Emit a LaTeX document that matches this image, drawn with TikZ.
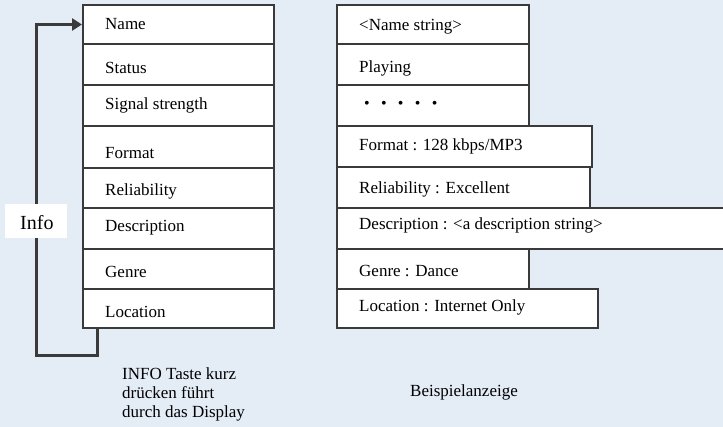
\documentclass[tikz,border=0pt]{standalone}
\usepackage{fontspec}
\setmainfont{Liberation Serif}
\usetikzlibrary{arrows.meta}
\definecolor{bg}{HTML}{E4ECF6}
\definecolor{ln}{HTML}{3A3A3A}
\tikzset{
  rowbox/.style={draw=ln, line width=2pt, fill=white, anchor=north west, inner sep=0pt},
  txt/.style={anchor=base west, inner sep=0pt, font=\fontsize{17}{19}\selectfont, text=black},
  conn/.style={draw=ln, line width=3pt, -{Triangle[length=10pt,width=12pt]}},
}
\begin{document}
\begin{tikzpicture}[x=1pt,y=-1pt]
\clip (0,0) rectangle (723,427);
\fill[bg] (0,0) rectangle (723,427);
% left column
\node[rowbox, minimum width=191, minimum height=39] (L1) at (82,4) {};
\node[rowbox, minimum width=191, minimum height=41] (L2) at (82,43) {};
\node[rowbox, minimum width=191, minimum height=41] (L3) at (82,84) {};
\node[rowbox, minimum width=191, minimum height=42] (L4) at (82,125) {};
\node[rowbox, minimum width=191, minimum height=40] (L5) at (82,167) {};
\node[rowbox, minimum width=191, minimum height=41] (L6) at (82,207) {};
\node[rowbox, minimum width=191, minimum height=40] (L7) at (82,248) {};
\node[rowbox, minimum width=191, minimum height=39] (L8) at (82,288) {};
\node[txt] (tL1) at (105,29.5) {Name};
\node[txt] (tL2) at (105,74) {Status};
\node[txt] (tL3) at (105,110) {Signal strength};
\node[txt] (tL4) at (105,158.5) {Format};
\node[txt] (tL5) at (105,195.5) {Reliability};
\node[txt] (tL6) at (105,231.5) {Description};
\node[txt] (tL7) at (105,278) {Genre};
\node[txt] (tL8) at (105,318) {Location};
% right column
\node[rowbox, minimum width=192, minimum height=39] (R1) at (336,4) {};
\node[rowbox, minimum width=192, minimum height=41] (R2) at (336,43) {};
\node[rowbox, minimum width=192, minimum height=41] (R3) at (336,84) {};
\node[rowbox, minimum width=255, minimum height=41] (R4) at (336,125) {};
\node[rowbox, minimum width=253, minimum height=41] (R5) at (336,166) {};
\node[rowbox, minimum width=420, minimum height=41] (R6) at (336,207) {};
\node[rowbox, minimum width=192, minimum height=40] (R7) at (336,248) {};
\node[rowbox, minimum width=261, minimum height=39] (R8) at (336,288) {};
\node[txt] (tR1) at (359,30.5) {<Name string>};
\node[txt] (tR2) at (359,72.5) {Playing};
\node[txt, font=\fontsize{16}{16}\selectfont] (tR3) at (364,109)
  {•\hspace{11.3pt}•\hspace{11.3pt}•\hspace{11.3pt}•\hspace{11.3pt}•};
\node[txt] (tR4) at (359,150.5) {Format : 128 kbps/MP3};
\node[txt] (tR5) at (359,193.5) {Reliability : Excellent};
\node[txt] (tR6) at (359,230) {Description : <a description string>};
\node[txt] (tR7) at (359,277) {Genre : Dance};
\node[txt] (tR8) at (359,311.5) {Location : Internet Only};
% loop connector
\coordinate (a1) at (36,356);
\draw[conn] ([xshift=15pt]L8.south west) |- (a1) |- (L1.west);
\node[fill=white, inner sep=0pt, anchor=north west, minimum width=62, minimum height=34] (info) at (5,204) {};
\node[txt, font=\fontsize{20}{22}\selectfont] (tinfo) at (20,230) {Info};
% captions
\node[txt] (c1) at (122,380) {INFO Taste kurz};
\node[txt] (c2) at (122,399) {drücken führt};
\node[txt] (c3) at (122,418) {durch das Display};
\node[txt] (c4) at (410,396.5) {Beispielanzeige};
\end{tikzpicture}
\end{document}
